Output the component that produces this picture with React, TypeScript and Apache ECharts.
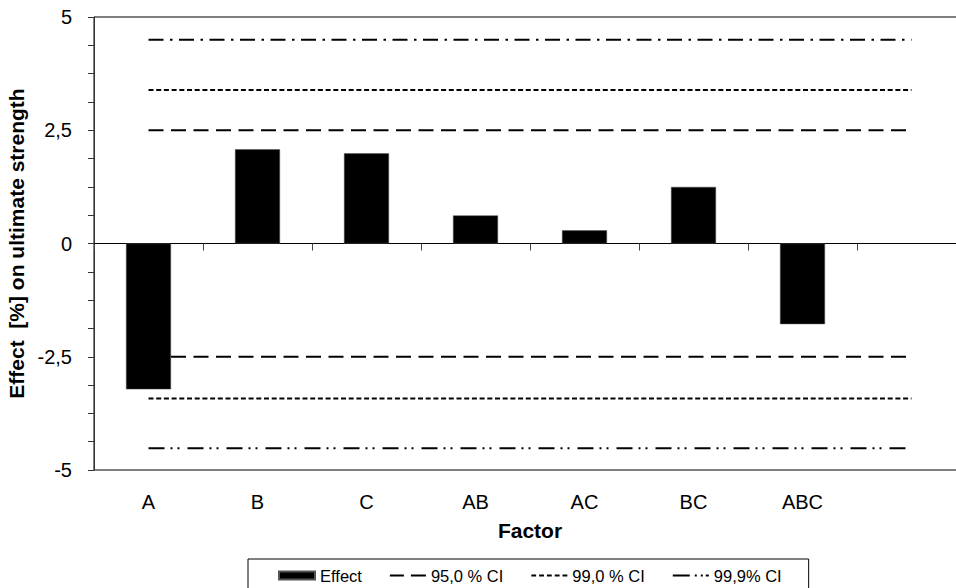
import React, { useEffect, useRef } from "react";
import * as echarts from "echarts";

const categories = ["A", "B", "C", "AB", "AC", "BC", "ABC", ""];
const effectValues = [-3.22, 2.08, 1.99, 0.62, 0.29, 1.25, -1.78, null];
const ci95Upper = [2.5, 2.5, 2.5, 2.5, 2.5, 2.5, 2.5, 2.5];
const ci95Lower = [-2.5, -2.5, -2.5, -2.5, -2.5, -2.5, -2.5, -2.5];
const ci99Upper = [3.39, 3.39, 3.39, 3.39, 3.39, 3.39, 3.39, 3.39];
const ci99Lower = [-3.42, -3.42, -3.42, -3.42, -3.42, -3.42, -3.42, -3.42];
const ci999Upper = [4.5, 4.5, 4.5, 4.5, 4.5, 4.5, 4.5, 4.5];
const ci999Lower = [-4.52, -4.52, -4.52, -4.52, -4.52, -4.52, -4.52, -4.52];
const yLabels = [-5, -2.5, 0, 2.5, 5];
const legendNames = ["Effect", "95,0 % CI", "99,0 % CI", "99,9% CI"];

const FONT = "Liberation Sans, Arial, sans-serif";

const ICON_95 = "path://M0 3h14v2H0z M21 3h15v2H21z";
const ICON_99 =
  "path://M0 3h4.8v2H0z M7.8 3h4.8v2H7.8z M15.6 3h4.8v2H15.6z M23.4 3h4.8v2H23.4z M31.2 3h4.8v2H31.2z";
const ICON_999 = "path://M0 3h17v2H0z M22 3h2v2H22z M28 3h2v2H28z M33 3h3v2H33z";

export default function App() {
  const ref = useRef<HTMLDivElement>(null);
  useEffect(() => {
    if (!ref.current) return;
    const chart = echarts.init(ref.current, undefined, { renderer: "svg" });
    const lineSeries = (name: string, data: number[], dash: number[]) => ({
      type: "line",
      name,
      data,
      xAxisIndex: 0,
      yAxisIndex: 0,
      symbol: "none",
      showSymbol: false,
      silent: true,
      lineStyle: { color: "#000", width: 2, type: dash },
      itemStyle: { color: "#000" },
    });
    const iconStyle = { itemStyle: { color: "#000", borderWidth: 0 }, lineStyle: { width: 0 } };
    chart.setOption({
      animation: false,
      textStyle: { fontFamily: FONT },
      grid: {
        left: 94,
        top: 17,
        width: 872,
        height: 453,
        show: true,
        borderColor: "#000",
        borderWidth: 1,
        backgroundColor: "transparent",
        containLabel: false,
        outerBoundsMode: "none",
      },
      legend: {
        left: 248,
        top: 559,
        padding: [8, 27, 20, 30],
        borderColor: "#000",
        borderWidth: 1,
        borderRadius: 0,
        itemGap: 28,
        itemWidth: 36,
        itemHeight: 8,
        selectedMode: false,
        textStyle: { fontSize: 16.5, color: "#000", fontFamily: FONT },
        data: [
          { name: legendNames[0], icon: "rect" },
          { name: legendNames[1], icon: ICON_95, ...iconStyle },
          { name: legendNames[2], icon: ICON_99, ...iconStyle },
          { name: legendNames[3], icon: ICON_999, ...iconStyle },
        ],
      },
      xAxis: [
        {
          type: "category",
          data: categories,
          position: "bottom",
          boundaryGap: true,
          axisLine: { show: true, onZero: true, lineStyle: { color: "#000", width: 1 } },
          axisTick: { show: true, length: 7, alignWithLabel: false, lineStyle: { color: "#444" } },
          axisLabel: { show: false },
          splitLine: { show: false },
        },
        {
          type: "category",
          data: categories,
          position: "bottom",
          boundaryGap: true,
          axisLine: { show: false, onZero: false },
          axisTick: { show: false },
          axisLabel: { show: true, fontSize: 20, color: "#000", margin: 22, fontFamily: FONT },
          splitLine: { show: false },
          name: "Factor",
          nameLocation: "middle",
          nameGap: 50,
          nameTextStyle: { fontSize: 21, fontWeight: "bold", color: "#000", fontFamily: FONT },
        },
      ],
      yAxis: {
        type: "value",
        min: -5,
        max: 5,
        interval: 0.625,
        axisLine: { show: true, lineStyle: { color: "#333", width: 1 } },
        axisTick: { show: true, length: 6, lineStyle: { color: "#333" } },
        splitLine: { show: false },
        axisLabel: {
          fontSize: 20,
          color: "#000",
          margin: 22,
          fontFamily: FONT,
          formatter: (v: number) => {
            const hit = yLabels.find((l) => Math.abs(l - v) < 1e-9);
            return hit === undefined ? "" : String(hit).replace(".", ",");
          },
        },
        name: "Effect  [%] on ultimate strength",
        nameLocation: "middle",
        nameGap: 59,
        nameRotate: 90,
        nameTextStyle: { fontSize: 21, fontWeight: "bold", color: "#000", fontFamily: FONT },
      },
      series: [
        {
          type: "bar",
          name: "Effect",
          data: effectValues,
          xAxisIndex: 0,
          yAxisIndex: 0,
          barWidth: 45,
          itemStyle: { color: "#000", borderColor: "#555", borderWidth: 0.5 },
          silent: true,
        },
        lineSeries("95,0 % CI", ci95Upper, [15, 7.5]),
        lineSeries("95,0 % CI", ci95Lower, [15, 7.5]),
        lineSeries("99,0 % CI", ci99Upper, [5, 2.7]),
        lineSeries("99,0 % CI", ci99Lower, [5, 2.7]),
        lineSeries("99,9% CI", ci999Lower, [16, 6, 2, 5, 2, 8]),
        lineSeries("99,9% CI", ci999Upper, [15, 6.5, 2.5, 6.5]),
      ],
    });
    return () => chart.dispose();
  }, []);
  return (
    <div
      ref={ref}
      style={{ position: "fixed", left: 0, top: 0, width: 956, height: 588, background: "#fff" }}
    />
  );
}
